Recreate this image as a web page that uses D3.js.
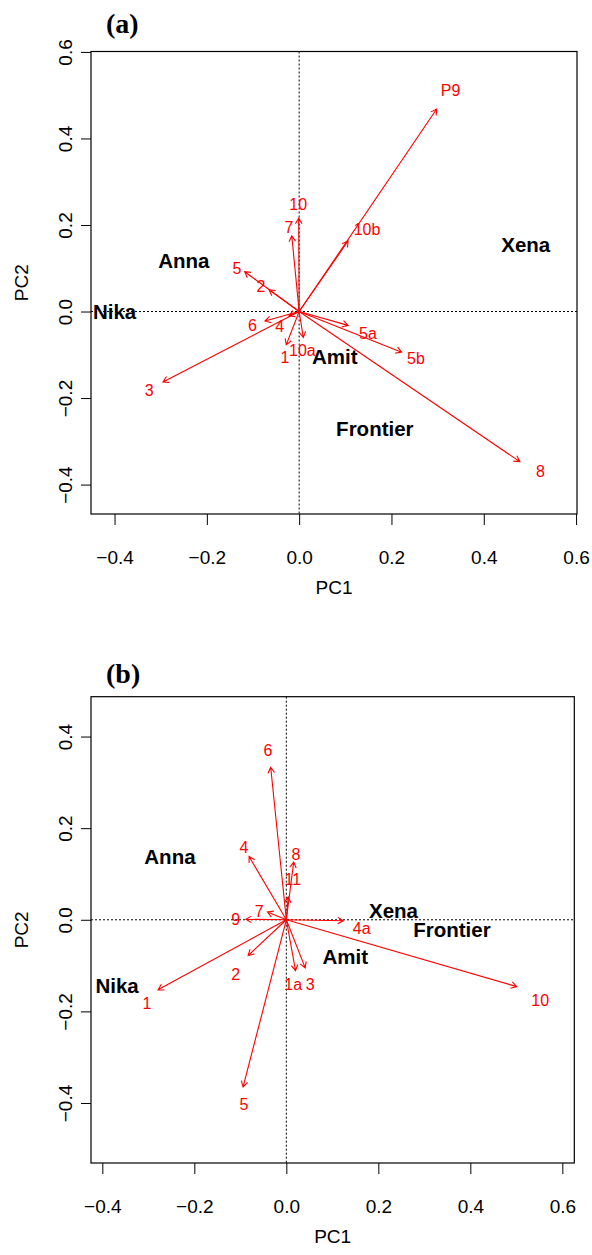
<!DOCTYPE html>
<html>
<head>
<meta charset="utf-8">
<script src="https://cdn.jsdelivr.net/npm/d3@7"></script>
<style>
  html, body { margin: 0; padding: 0; background: #fff; }
  svg { display: block; }
</style>
</head>
<body>
<svg id="chart" width="592" height="1255"></svg>
<script>
// ---------- DATA ----------
const xTicks = [-0.4, -0.2, 0.0, 0.2, 0.4, 0.6];
const aYTicks = [-0.4, -0.2, 0.0, 0.2, 0.4, 0.6];
const bYTicks = [-0.4, -0.2, 0.0, 0.2, 0.4];

// Panel (a) variables: arrow tips and label positions (PC1, PC2)
const aVars     = ["P9", "10", "7", "10b", "5a", "5b", "10a", "1", "8", "3", "6", "5", "2", "4"];
const aArrowPC1 = [0.298, -0.001, -0.016, 0.106, 0.106, 0.222, 0.009, -0.028, 0.478, -0.295, -0.074, -0.118, -0.065, -0.022];
const aArrowPC2 = [0.468, 0.216, 0.175, 0.163, -0.032, -0.094, -0.060, -0.077, -0.347, -0.163, -0.022, 0.092, 0.050, -0.010];
const aLabelPC1 = [0.328, -0.002, -0.022, 0.147, 0.149, 0.253, 0.007, -0.031, 0.523, -0.325, -0.101, -0.135, -0.083, -0.042];
const aLabelPC2 = [0.510, 0.247, 0.194, 0.190, -0.050, -0.109, -0.089, -0.106, -0.370, -0.183, -0.031, 0.099, 0.057, -0.035];
// Panel (a) cultivars
const aGroups   = ["Anna", "Nika", "Xena", "Amit", "Frontier"];
const aGroupPC1 = [-0.250, -0.400, 0.491, 0.077, 0.164];
const aGroupPC2 = [0.118, 0.000, 0.154, -0.104, -0.272];

// Panel (b) variables
const bVars     = ["6", "4", "8", "11", "7", "9", "4a", "2", "1a", "3", "1", "5", "10"];
const bArrowPC1 = [-0.034, -0.081, 0.016, 0.004, -0.041, -0.088, 0.124, -0.083, 0.020, 0.041, -0.279, -0.094, 0.501];
const bArrowPC2 = [0.333, 0.138, 0.126, 0.050, 0.017, 0.001, -0.002, -0.078, -0.111, -0.105, -0.153, -0.365, -0.146];
const bLabelPC1 = [-0.040, -0.092, 0.021, 0.014, -0.059, -0.110, 0.164, -0.110, 0.015, 0.052, -0.303, -0.092, 0.552];
const bLabelPC2 = [0.369, 0.158, 0.142, 0.089, 0.018, 0.000, -0.018, -0.120, -0.142, -0.140, -0.183, -0.404, -0.175];
// Panel (b) cultivars
const bGroups   = ["Xena", "Frontier", "Amit", "Anna", "Nika"];
const bGroupPC1 = [0.233, 0.360, 0.128, -0.253, -0.368];
const bGroupPC2 = [0.020, -0.022, -0.080, 0.138, -0.144];

// ---------- DRAW ----------
const svg = d3.select("#chart");
const RED = "#ff0000";

function drawPanel(cfg) {
  const x = d3.scaleLinear().domain(cfg.xDomain).range([cfg.left, cfg.right]);
  const y = d3.scaleLinear().domain(cfg.yDomain).range([cfg.bottom, cfg.top]);
  const g = svg.append("g");

  // title
  g.append("text")
    .attr("x", cfg.titleX).attr("y", cfg.titleY)
    .attr("font-family", "'Liberation Serif', 'Times New Roman', serif")
    .attr("font-weight", "bold").attr("font-size", 28)
    .text(cfg.title);

  // reference dotted lines
  g.append("line")
    .attr("x1", cfg.left).attr("x2", cfg.right)
    .attr("y1", y(0)).attr("y2", y(0))
    .attr("stroke", "#000").attr("stroke-width", 1).attr("stroke-dasharray", "2,2");
  g.append("line")
    .attr("x1", x(0)).attr("x2", x(0))
    .attr("y1", cfg.top).attr("y2", cfg.bottom)
    .attr("stroke", "#000").attr("stroke-width", 1).attr("stroke-dasharray", "2,2");

  // axes
  const xAxis = d3.axisBottom(x).tickValues(cfg.xTicks).tickSize(11).tickPadding(14)
    .tickFormat(d3.format(".1f"));
  const gx = g.append("g").attr("transform", `translate(0,${cfg.bottom})`).call(xAxis);
  gx.select(".domain").remove();
  gx.selectAll(".tick line").attr("stroke", "#000").attr("stroke-width", 1);
  gx.selectAll(".tick text")
    .attr("font-family", "'Liberation Sans', Arial, sans-serif")
    .attr("font-size", 19).attr("fill", "#000")
    .attr("y", 43).attr("dy", "0.35em");

  const yAxis = d3.axisLeft(y).tickValues(cfg.yTicks).tickSize(10)
    .tickFormat(d3.format(".1f"));
  const gy = g.append("g").attr("transform", `translate(${cfg.left},0)`).call(yAxis);
  gy.select(".domain").remove();
  gy.selectAll(".tick line").attr("stroke", "#000").attr("stroke-width", 1);
  gy.selectAll(".tick text")
    .attr("font-family", "'Liberation Sans', Arial, sans-serif")
    .attr("font-size", 19).attr("fill", "#000")
    .attr("x", null).attr("dy", null)
    .attr("text-anchor", "middle")
    .attr("transform", "translate(-26,0) rotate(-90)")
    .attr("dy", "0.35em");

  // axis titles
  g.append("text")
    .attr("x", (cfg.left + cfg.right) / 2).attr("y", cfg.bottom + 73).attr("dy", "0.35em")
    .attr("text-anchor", "middle")
    .attr("font-family", "'Liberation Sans', Arial, sans-serif").attr("font-size", 19)
    .text("PC1");
  g.append("text")
    .attr("transform", `translate(${cfg.left - 70},${(cfg.top + cfg.bottom) / 2}) rotate(-90)`)
    .attr("dy", "0.35em")
    .attr("text-anchor", "middle")
    .attr("font-family", "'Liberation Sans', Arial, sans-serif").attr("font-size", 19)
    .text("PC2");

  // box
  g.append("rect")
    .attr("x", cfg.left).attr("y", cfg.top)
    .attr("width", cfg.right - cfg.left).attr("height", cfg.bottom - cfg.top)
    .attr("fill", "none").attr("stroke", "#000").attr("stroke-width", 1.2);

  // cultivar labels
  g.selectAll(".grp").data(cfg.groups.map((n, i) => ({n, px: cfg.gx[i], py: cfg.gy[i]})))
    .enter().append("text")
    .attr("x", d => x(d.px)).attr("y", d => y(d.py)).attr("dy", "0.35em")
    .attr("text-anchor", "middle")
    .attr("font-family", "'Liberation Sans', Arial, sans-serif")
    .attr("font-weight", "bold").attr("font-size", 20.5).attr("fill", "#000")
    .text(d => d.n);

  // arrows
  const vars = cfg.vars.map((n, i) => ({n, ax: cfg.ax[i], ay: cfg.ay[i], lx: cfg.lx[i], ly: cfg.ly[i]}));
  const headLen = 6.5, headAng = Math.PI / 6;
  g.selectAll(".arr").data(vars).enter().append("path")
    .attr("fill", "none").attr("stroke", RED).attr("stroke-width", 1.1)
    .attr("d", d => {
      const x0 = x(0), y0 = y(0), x1 = x(d.ax), y1 = y(d.ay);
      const ang = Math.atan2(y1 - y0, x1 - x0);
      const h1x = x1 - headLen * Math.cos(ang - headAng), h1y = y1 - headLen * Math.sin(ang - headAng);
      const h2x = x1 - headLen * Math.cos(ang + headAng), h2y = y1 - headLen * Math.sin(ang + headAng);
      return `M${x0},${y0}L${x1},${y1}M${h1x},${h1y}L${x1},${y1}L${h2x},${h2y}`;
    });
  g.selectAll(".vlab").data(vars).enter().append("text")
    .attr("x", d => x(d.lx)).attr("y", d => y(d.ly)).attr("dy", "0.35em")
    .attr("text-anchor", "middle")
    .attr("font-family", "'Liberation Sans', Arial, sans-serif")
    .attr("font-size", 16).attr("fill", RED)
    .text(d => d.n);
}

drawPanel({
  title: "(a)", titleX: 106, titleY: 33,
  left: 91, right: 577, top: 51.5, bottom: 514,
  xDomain: [-0.451, 0.602], yDomain: [-0.468, 0.601],
  xTicks: xTicks, yTicks: aYTicks,
  vars: aVars, ax: aArrowPC1, ay: aArrowPC2, lx: aLabelPC1, ly: aLabelPC2,
  groups: aGroups, gx: aGroupPC1, gy: aGroupPC2
});

drawPanel({
  title: "(b)", titleX: 106, titleY: 683,
  left: 91, right: 574.3, top: 696.7, bottom: 1163,
  xDomain: [-0.4246, 0.626], yDomain: [-0.531, 0.487],
  xTicks: xTicks, yTicks: bYTicks,
  vars: bVars, ax: bArrowPC1, ay: bArrowPC2, lx: bLabelPC1, ly: bLabelPC2,
  groups: bGroups, gx: bGroupPC1, gy: bGroupPC2
});
</script>
</body>
</html>
